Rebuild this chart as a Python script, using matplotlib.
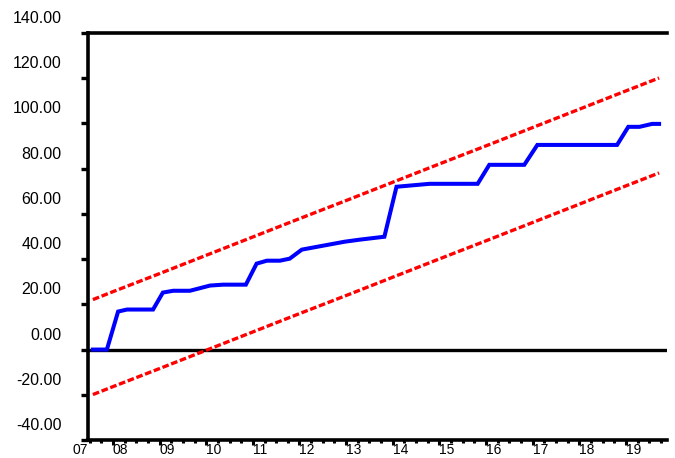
import matplotlib
matplotlib.use("Agg")
import matplotlib.pyplot as plt
from matplotlib.ticker import FixedLocator
from matplotlib.transforms import ScaledTranslation

plt.rcParams["font.family"] = ["Liberation Sans", "DejaVu Sans"]

# Blue series (decimal year, value)
BLUE_T = [2007.57, 2007.87, 2008.11, 2008.30, 2008.86, 2009.07, 2009.29, 2009.65,
          2009.82, 2010.08, 2010.36, 2010.85, 2011.08, 2011.30, 2011.58, 2011.79,
          2012.05, 2012.39, 2012.97, 2013.29, 2013.82, 2014.08, 2014.79, 2015.82,
          2016.07, 2016.82, 2017.10, 2018.81, 2019.05, 2019.29, 2019.56, 2019.71]
BLUE_V = [0.0, 0.0, 16.8, 17.7, 17.7, 25.2, 26.0, 26.0,
          26.9, 28.3, 28.7, 28.7, 38.0, 39.3, 39.3, 40.2,
          44.2, 45.5, 47.7, 48.6, 49.9, 72.0, 73.3, 73.3,
          81.7, 81.7, 90.5, 90.5, 98.5, 98.5, 99.8, 99.8]

# Upper / lower red bands
BAND_T = [2007.57, 2008, 2009, 2010, 2011, 2012, 2013, 2014, 2015, 2016, 2017,
          2018, 2019, 2019.71]
UPPER_V = [22.1, 25.6, 33.6, 41.7, 49.8, 57.9, 65.9, 74.0, 82.1, 90.1, 98.2,
           106.3, 114.4, 120.1]
LOWER_V = [-19.9, -16.4, -8.4, -0.3, 7.8, 15.9, 23.9, 32.0, 40.1, 48.1, 56.2,
           64.3, 72.4, 78.1]

YEARS = list(range(2008, 2020))
YEAR_LABELS = [f"{y % 100:02d}" for y in YEARS]
Y_TICKS = list(range(-40, 141, 20))
X_MIN, X_MAX = 2007.465, 2019.88

fig = plt.figure(figsize=(6.75, 4.58), dpi=100)
ax = fig.add_axes([88 / 675, 18 / 458, (667 - 88) / 675, (440 - 33) / 458])

ax.plot(BAND_T, UPPER_V, color="#ff0000", lw=2.4, dashes=(2, 0.8), zorder=3)
ax.plot(BAND_T, LOWER_V, color="#ff0000", lw=2.4, dashes=(2, 0.8), zorder=3)
ax.plot(BLUE_T, BLUE_V, color="#0000ff", lw=2.9, zorder=4,
        solid_joinstyle="miter")
ax.axhline(0, color="black", lw=2.4, zorder=2)

ax.set_xlim(X_MIN, X_MAX)
ax.set_ylim(-40, 140)

for side in ["left", "bottom", "top"]:
    ax.spines[side].set_linewidth(2.6)
    ax.spines[side].set_color("black")
ax.spines["right"].set_visible(False)

# y ticks: labels sit above their tick marks
ax.set_yticks(Y_TICKS)
ax.set_yticklabels([f"{v:.2f}" for v in Y_TICKS])
ax.tick_params(axis="y", direction="out", length=5, width=2.4, pad=14,
               labelsize=11.5, colors="black")
shift = ScaledTranslation(0, 0.16, fig.dpi_scale_trans)
for lab in ax.get_yticklabels():
    lab.set_transform(lab.get_transform() + shift)

# x ticks: year marks with quarterly dots, labels to the right of each mark
ax.set_xticks([X_MIN] + YEARS)
ax.set_xticklabels(["07"] + YEAR_LABELS)
ax.xaxis.set_minor_locator(FixedLocator(
    [y + q / 4 for y in range(2007, 2020) for q in (1, 2, 3)
     if X_MIN < y + q / 4 < X_MAX]))
ax.tick_params(axis="x", which="major", direction="out", length=3.5,
               width=2.2, pad=-1, labelsize=10, colors="black")
ax.tick_params(axis="x", which="minor", direction="out", length=2,
               width=2.2)
xlabs = ax.get_xticklabels()
for lab in xlabs:
    lab.set_horizontalalignment("left")
xlabs[0].set_horizontalalignment("right")
ax.xaxis.get_major_ticks()[0].tick1line.set_visible(False)

ax.set_facecolor("white")
fig.savefig("out.png", dpi=100, facecolor="white")
